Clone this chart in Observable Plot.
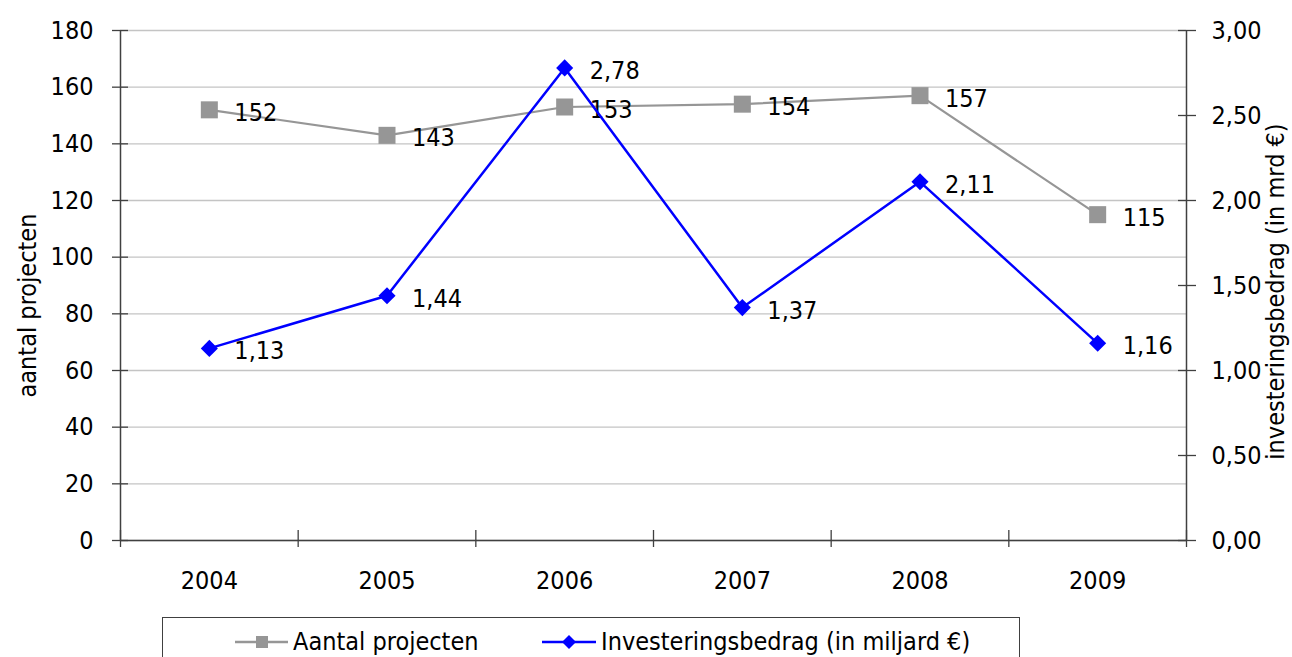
<!DOCTYPE html>
<html><head><meta charset="utf-8">
<script src="https://cdn.jsdelivr.net/npm/d3@7"></script>
<script src="https://cdn.jsdelivr.net/npm/@observablehq/plot@0.6"></script>
<style>
body{margin:0;background:#fff;font-family:"DejaVu Sans Condensed","DejaVu Sans",sans-serif;font-stretch:condensed;}
#wrap{position:relative;width:1292px;height:657px;overflow:hidden;}
#chart svg{display:block;}
#legend{position:absolute;left:162px;top:617px;width:858px;height:60px;border:1px solid #404040;box-sizing:border-box;background:#fff;}
.item{position:absolute;top:9px;height:30px;line-height:30px;font-size:25px;color:#000;white-space:nowrap;}
.item svg{position:absolute;left:0;top:0;}
.item span{position:absolute;top:0;}
</style></head>
<body>
<div id="wrap">
  <div id="chart"></div>
  <div id="legend">
    <div class="item" style="left:72px;">
      <svg width="54" height="30"><line x1="0" y1="15" x2="53" y2="15" stroke="#969696" stroke-width="2.5"/><rect x="21" y="9" width="12" height="12" fill="#969696"/></svg>
      <span style="left:58px;">Aantal projecten</span>
    </div>
    <div class="item" style="left:379px;">
      <svg width="56" height="30"><line x1="0" y1="15" x2="54" y2="15" stroke="#0000ff" stroke-width="2.5"/><path d="M27,8L34,15L27,22L20,15Z" fill="#0000ff"/></svg>
      <span style="left:59px;">Investeringsbedrag (in miljard €)</span>
    </div>
  </div>
</div>
<script>
const years = [2004, 2005, 2006, 2007, 2008, 2009];
const projecten = [152, 143, 153, 154, 157, 115];
const investering = [1.13, 1.44, 2.78, 1.37, 2.11, 1.16];
const leftTicks = [0, 20, 40, 60, 80, 100, 120, 140, 160, 180];
const rightTicks = [0, 0.5, 1, 1.5, 2, 2.5, 3];
const leftMax = 180, rightMax = 3;
const ratio = leftMax / rightMax;

const xDomain = [years[0] - 0.5, years[years.length - 1] + 0.5];
const boundaries = [...years.map(y => y - 0.5), years[years.length - 1] + 0.5];

const gray = "#969696", blue = "#0000ff", axisColor = "#404040";
const comma = v => v.toFixed(2).replace(".", ",");

const proj = years.map((y, i) => ({year: y, value: projecten[i]}));
const inv = years.map((y, i) => ({year: y, value: investering[i], scaled: investering[i] * ratio}));

const plot = Plot.plot({
  width: 1292,
  height: 610,
  marginLeft: 120,
  marginRight: 106,
  marginTop: 30,
  marginBottom: 70,
  style: {fontFamily: '"DejaVu Sans Condensed","DejaVu Sans",sans-serif', fontSize: "25px", fontStretch: "condensed", color: "#000", background: "#fff"},
  x: {type: "linear", domain: xDomain},
  y: {type: "linear", domain: [0, leftMax]},
  marks: [
    Plot.gridY(leftTicks, {stroke: "#c4c4c4", strokeOpacity: 1, strokeWidth: 1.3}),
    // x axis: separators between categories + year labels
    Plot.axisX({ticks: boundaries, tickSize: 17, dy: -10, tickFormat: () => "", stroke: axisColor, strokeWidth: 1.3, label: null}),
    Plot.axisX({ticks: years, tickSize: 0, tickPadding: 31, tickFormat: d => String(d), label: null, fill: "#000"}),
    // left axis
    Plot.axisY({ticks: leftTicks, anchor: "left", tickSize: 16, dx: 8, tickPadding: 19, tickFormat: d => String(d), stroke: axisColor, strokeWidth: 1.3, label: null, fill: "#000"}),
    // right axis
    Plot.axisY({ticks: rightTicks.map(v => v * ratio), anchor: "right", tickSize: 18, dx: -9, tickPadding: 16, tickFormat: d => comma(d / ratio), stroke: axisColor, strokeWidth: 1.3, label: null, fill: "#000"}),
    Plot.ruleX([xDomain[0], xDomain[1]], {stroke: axisColor, strokeWidth: 1.5}),
    Plot.ruleY([0], {stroke: axisColor, strokeWidth: 1.5}),
    // axis titles
    Plot.text(["aantal projecten"], {frameAnchor: "left", textAnchor: "middle", rotate: -90, dx: -93, dy: 20, fill: "#000"}),
    Plot.text(["investeringsbedrag (in mrd €)"], {frameAnchor: "right", textAnchor: "middle", rotate: -90, dx: 89, dy: 6, fill: "#000"}),
    // series 1
    Plot.line(proj, {x: "year", y: "value", stroke: gray, strokeWidth: 2.2}),
    Plot.dot(proj, {x: "year", y: "value", symbol: "square", r: 9.6, fill: gray, stroke: "none"}),
    Plot.text(proj, {x: "year", y: "value", text: d => String(d.value), textAnchor: "start", dx: 25, dy: 3, fill: "#000"}),
    // series 2
    Plot.line(inv, {x: "year", y: "scaled", stroke: blue, strokeWidth: 2.5}),
    Plot.dot(inv, {x: "year", y: "scaled", symbol: "diamond2", r: 7.7, fill: blue, stroke: "none"}),
    Plot.text(inv, {x: "year", y: "scaled", text: d => comma(d.value), textAnchor: "start", dx: 25, dy: 3, fill: "#000"})
  ]
});
document.getElementById("chart").appendChild(plot);
</script>
</body></html>
